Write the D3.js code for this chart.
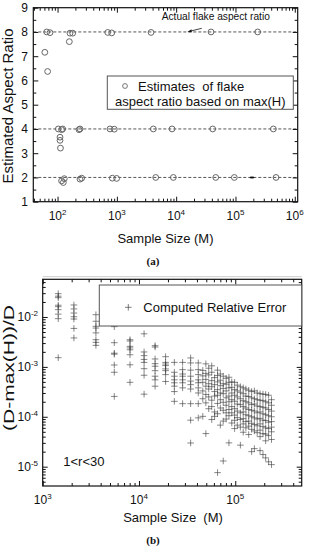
<!DOCTYPE html>
<html>
<head>
<meta charset="utf-8">
<script src="https://cdn.jsdelivr.net/npm/d3@7"></script>
<style>
body { margin: 0; background: #fff; }
text { font-family: Arial, "Liberation Sans", sans-serif; fill: #111; white-space: pre; }
</style>
</head>
<body>
<div id="grafica"></div>
<script>
// ---------- (a) estimated aspect ratio vs sample size ----------
const rows8 = [[65.6, 8.0], [74.6, 7.97], [162, 7.95], [180, 7.95], [701, 7.98], [819, 7.96], [3770, 7.98], [38700, 8.0], [237000, 8.0],
               [61, 7.16], [68, 6.37], [158, 7.6]]
const rows4 = [[103, 4.0], [117, 3.97], [122, 4.0], [230, 3.97], [239, 4.0], [766, 4.0], [905, 3.99], [4120, 4.0], [8520, 4.0], [41300, 4.0], [435000, 4.0],
               [110, 3.66], [110, 3.53], [112, 3.21]]
const rows2 = [[117, 1.86], [125, 1.79], [130, 1.95], [239, 1.93], [255, 1.97], [838, 1.97], [993, 1.96], [4520, 2.0], [8960, 2.0], [46500, 2.0], [95700, 2.0], [483000, 2.0]]
const blackMark = [[190000, 2.0]]
const actualRatios = [8, 4, 2]
const ticksA = [1, 2, 3, 4, 5, 6, 7, 8, 9]
const decadesA = [1e2, 1e3, 1e4, 1e5, 1e6]

// ---------- (b) computed relative error vs sample size ----------
const errSizes = [1450, 2110, 3570, 5540, 8070, 11300, 14700, 18900, 23300, 28400, 34400, 41300,
                  46000, 49500, 53000, 57000, 61000, 65500, 70000, 75000, 80500, 86000, 92000, 98500,
                  105000, 113000, 121000, 129000, 138000, 148000, 158000, 169000, 181000, 194000, 207000, 222000, 238000]
const errValues = [
  [0.0293, 0.0261, 0.0244, 0.0172, 0.0161, 0.0140, 0.0114, 0.00925, 0.00153],
  [0.0174, 0.0145, 0.0120, 0.0101, 0.0091, 0.0059, 0.0038],
  [0.0111, 0.0082, 0.0065, 0.0060, 0.0048, 0.0035, 0.0031, 0.0027],
  [0.0064, 0.00305, 0.00188, 0.0018, 0.00109, 0.00078, 0.000256],
  [0.0035, 0.0033, 0.00258, 0.0024, 0.0022, 0.00175, 0.0011, 0.00049],
  [0.0046, 0.00199, 0.00168, 0.00141, 0.00123, 0.00092, 0.00068, 0.000284],
  [0.00266, 0.0025, 0.00144, 0.00116, 0.00103, 0.00084, 0.00065, 0.00055, 0.00041],
  [0.0016, 0.00123, 0.00114, 0.00106, 0.00091, 0.00084, 0.0007, 0.00051],
  [0.00123, 0.00078, 0.00065, 0.00055, 0.00048, 0.00041, 0.00032, 0.000204],
  [0.00123, 0.00088, 0.00072, 0.00065, 0.00055, 0.00048, 0.00038, 0.000183],
  [0.00151, 0.0012, 0.00086, 0.00065, 0.00052, 0.00044, 0.00036, 0.000183, 0.0000855, 0.0000298],
  [0.0012, 0.00088, 0.0007, 0.00055, 0.00048, 0.00038, 0.0003, 0.000183, 0.000095],
  [0.00085, 0.00066, 0.00049, 0.00033, 0.00023, 0.000102],
  [0.00115, 0.00074, 0.00056, 0.00041, 0.00028, 0.00019, 0.000046],
  [0.00094, 0.00069, 0.00046, 0.00036, 0.00025, 0.000145],
  [0.00105, 0.00078, 0.00053, 0.0004, 0.000215, 0.00016, 0.000088],
  [0.00061, 0.00044, 0.00032, 0.00026, 0.000125, 0.000102],
  [0.00086, 0.00067, 0.0005, 0.00035, 0.00027, 0.000185, 0.000115, 0.0000076],
  [0.00072, 0.00054, 0.00042, 0.0003, 0.00022, 0.00015, 0.000068],
  [0.00065, 0.00046, 0.00037, 0.00029, 0.000195, 0.000135, 0.000082, 0.000013],
  [0.00059, 0.00045, 0.00033, 0.00024, 0.00017, 0.00012, 0.00009],
  [0.00062, 0.00049, 0.00038, 0.00026, 0.0002, 0.00014, 0.000105, 0.00003],
  [0.0005, 0.00039, 0.0003, 0.00022, 0.00016, 0.00012, 0.000075],
  [0.00049, 0.00035, 0.00027, 0.000205, 0.000145, 0.000108, 0.000085, 0.000058],
  [0.00043, 0.00033, 0.00025, 0.00018, 0.00013, 0.000096, 0.000068],
  [0.0004, 0.00031, 0.00023, 0.000175, 0.00012, 0.000088, 0.000062, 0.000027],
  [0.00038, 0.00029, 0.00021, 0.00016, 0.000125, 0.000092, 0.000072, 0.000049],
  [0.00036, 0.00026, 0.0002, 0.00015, 0.00011, 0.00008, 0.00006],
  [0.00034, 0.000255, 0.00019, 0.00014, 0.000105, 0.000082, 0.000065, 0.000044],
  [0.00032, 0.00024, 0.000175, 0.000135, 0.0001, 0.000074, 0.000056, 0.00002],
  [0.00033, 0.00023, 0.00018, 0.00013, 0.000095, 0.00007, 0.000052, 0.000023],
  [0.0003, 0.00022, 0.000165, 0.00012, 0.00009, 0.000066, 0.000048],
  [0.00029, 0.000215, 0.00016, 0.000125, 0.000093, 0.000072, 0.000054, 0.00004, 0.000021],
  [0.000285, 0.00021, 0.000155, 0.000115, 0.000086, 0.000064, 0.000046, 0.0000175],
  [0.00028, 0.0002, 0.00015, 0.00011, 0.000084, 0.00006, 0.000045, 0.000033, 0.000015],
  [0.00027, 0.00019, 0.00014, 0.000105, 0.000078, 0.000058, 0.000042, 0.0000125],
  [0.00022, 0.00017, 0.00013, 0.0001, 0.00008, 0.000062, 0.00005, 0.000035, 0.000011]
]
const decadesBx = [1e3, 1e4, 1e5]
const decadesBy = [1e-2, 1e-3, 1e-4, 1e-5]

const anchoTotal = 311
const altoTotal = 550

const svg = d3.select("#grafica").append("svg")
    .attr("width", anchoTotal)
    .attr("height", altoTotal)

// minor ticks for a log scale: 2..9 x 10^k inside the domain
const logMinor = (scale) => {
    const [a, b] = scale.domain()
    const out = []
    for (let k = Math.floor(Math.log10(a)); k <= Math.ceil(Math.log10(b)); k++) {
        for (let m = 2; m <= 9; m++) {
            const v = m * Math.pow(10, k)
            if (v >= a && v <= b) out.push(v)
        }
    }
    return out
}

// box with inward ticks on all four sides
const drawFrame = (g, x, y, xMajor, xMinor, yMajor, yMinor) => {
    const [x0, x1] = x.range()
    const [y0, y1] = y.range()
    const axes = [
        [d3.axisBottom, x, y0, 0, xMajor, xMinor],
        [d3.axisTop, x, y1, 0, xMajor, xMinor],
        [d3.axisLeft, y, x0, 1, yMajor, yMinor],
        [d3.axisRight, y, x1, 1, yMajor, yMinor]
    ]
    axes.forEach(([fn, sc, pos, vert, major, minor]) => {
        [[major, -5], [minor, -3]].forEach(([vals, size]) => {
            g.append("g")
                .attr("transform", vert ? `translate(${pos},0)` : `translate(0,${pos})`)
                .call(fn(sc).tickValues(vals).tickSize(size).tickSizeOuter(0).tickFormat(""))
                .call(s => s.select(".domain").remove())
                .call(s => s.selectAll("line").attr("stroke", "#111").attr("stroke-width", 1))
        })
    })
    g.append("rect")
        .attr("x", x0).attr("y", y1)
        .attr("width", x1 - x0).attr("height", y0 - y1)
        .attr("fill", "none").attr("stroke", "#111").attr("stroke-width", 1.2)
}

const powLabel = (g, x, y, exp, anchor) => {
    const t = g.append("text")
        .attr("x", x).attr("y", y)
        .attr("text-anchor", anchor)
        .attr("font-size", 12)
    t.append("tspan").text("10")
    t.append("tspan").attr("font-size", 8).attr("dy", -5).text(exp)
}

// ================= (a) =================
const xA = d3.scaleLog().domain([39, 1.12e6]).range([33.3, 297.7])
const yA = d3.scaleLinear().domain([1, 9]).range([201.7, 7.7])
const gA = svg.append("g")

// dashed reference lines
gA.selectAll(".ref").data(actualRatios).join("line")
    .attr("x1", xA.range()[0]).attr("x2", xA.range()[1])
    .attr("y1", d => yA(d)).attr("y2", d => yA(d))
    .attr("stroke", "#444").attr("stroke-width", 0.9)
    .attr("stroke-dasharray", "3,2")

const half = d3.range(1.5, 9, 1)
drawFrame(gA, xA, yA, decadesA, logMinor(xA), ticksA, half)

gA.selectAll(".circ").data([...rows8, ...rows4, ...rows2]).join("circle")
    .attr("cx", d => xA(d[0])).attr("cy", d => yA(d[1]))
    .attr("r", 2.9)
    .attr("fill", "none").attr("stroke", "#666").attr("stroke-width", 1)

gA.selectAll(".blk").data(blackMark).join("ellipse")
    .attr("cx", d => xA(d[0])).attr("cy", d => yA(d[1]))
    .attr("rx", 2.5).attr("ry", 1)
    .attr("fill", "#111")

// tick labels
ticksA.forEach(v => {
    gA.append("text").attr("x", 28).attr("y", yA(v) + 4.3)
        .attr("text-anchor", "end").attr("font-size", 12).text(v)
})
decadesA.forEach((v, i) => powLabel(gA, xA(v), 219.5, String(i + 2), "middle"))

gA.append("text")
    .attr("transform", `translate(12.5,106) rotate(-90)`)
    .attr("text-anchor", "middle").attr("font-size", 15)
    .text("Estimated Aspect Ratio")
gA.append("text").attr("x", 165.5).attr("y", 243)
    .attr("text-anchor", "middle").attr("font-size", 13)
    .text("Sample Size (M)")

// annotation with arrow
gA.append("text").attr("x", xA(5700)).attr("y", yA(8.49))
    .attr("font-size", 10.2).text("Actual flake aspect ratio")
gA.append("line")
    .attr("x1", xA(27000)).attr("y1", yA(8.15))
    .attr("x2", xA(16500)).attr("y2", yA(8.02))
    .attr("stroke", "#111").attr("stroke-width", 0.8)
gA.append("path")
    .attr("d", `M${xA(15500)},${yA(8.0)} l4,-2.6 l0.3,2.8 z`)
    .attr("fill", "#111")

// legend
gA.append("rect").attr("x", 107.3).attr("y", 76).attr("width", 186).attr("height", 33.3)
    .attr("fill", "#fff").attr("stroke", "#555").attr("stroke-width", 1)
gA.append("circle").attr("cx", 125).attr("cy", 86).attr("r", 2.4)
    .attr("fill", "none").attr("stroke", "#777")
gA.append("text").attr("x", 138).attr("y", 90.5).attr("font-size", 13).text("Estimates  of flake")
gA.append("text").attr("x", 115).attr("y", 106).attr("font-size", 13).text("aspect ratio based on max(H)")

svg.append("text").attr("x", 153).attr("y", 265).attr("text-anchor", "middle")
    .attr("font-size", 11).attr("font-weight", "bold")
    .style("font-family", "'Liberation Serif', serif").text("(a)")

svg.append("line").attr("x1", 43).attr("x2", 301.7).attr("y1", 276.7).attr("y2", 276.7)
    .attr("stroke", "#ccc").attr("stroke-width", 1)

// ================= (b) =================
const xB = d3.scaleLog().domain([1000, 4.9e5]).range([42.7, 301.7])
const yB = d3.scaleLog().domain([4.1e-6, 0.0569]).range([486, 279.3])
const gB = svg.append("g")

drawFrame(gB, xB, yB, decadesBx, logMinor(xB), decadesBy, logMinor(yB))

const puntos = errSizes.flatMap((m, i) => errValues[i].map(v => [m, v]))
const cruz = (px, py, s) => `M${px - s},${py}h${2 * s}M${px},${py - s}v${2 * s}`

gB.append("path")
    .attr("d", puntos.map(d => cruz(xB(d[0]), yB(d[1]), 3.3)).join(""))
    .attr("stroke", "#333").attr("stroke-opacity", 0.65).attr("stroke-width", 0.9)
    .attr("fill", "none")

decadesBy.forEach(v => powLabel(gB, 38, yB(v) + 4.3, String(Math.round(Math.log10(v))), "end"))
decadesBx.forEach(v => powLabel(gB, xB(v), 503.5, String(Math.round(Math.log10(v))), "middle"))

// stretched label, as in the original figure
gB.append("text")
    .attr("transform", `translate(14,368) rotate(-90) scale(1.5,1)`)
    .attr("text-anchor", "middle").attr("font-size", 14)
    .text("(D-max(H))/D")
gB.append("text").attr("x", 173).attr("y", 522)
    .attr("text-anchor", "middle").attr("font-size", 13)
    .text("Sample Size  (M)")
gB.append("text").attr("x", 63.3).attr("y", 466).attr("font-size", 13).text("1<r<30")

// legend
gB.append("rect").attr("x", 99.3).attr("y", 285).attr("width", 202.4).attr("height", 41)
    .attr("fill", "#fff").attr("stroke", "#555").attr("stroke-width", 1)
gB.append("path").attr("d", cruz(128.3, 307.3, 3.3))
    .attr("stroke", "#333").attr("stroke-opacity", 0.7).attr("stroke-width", 0.9)
gB.append("text").attr("x", 143.3).attr("y", 311.5).attr("font-size", 13).text("Computed Relative Error")

svg.append("text").attr("x", 153).attr("y", 543.5).attr("text-anchor", "middle")
    .attr("font-size", 11).attr("font-weight", "bold")
    .style("font-family", "'Liberation Serif', serif").text("(b)")
</script>
</body>
</html>
